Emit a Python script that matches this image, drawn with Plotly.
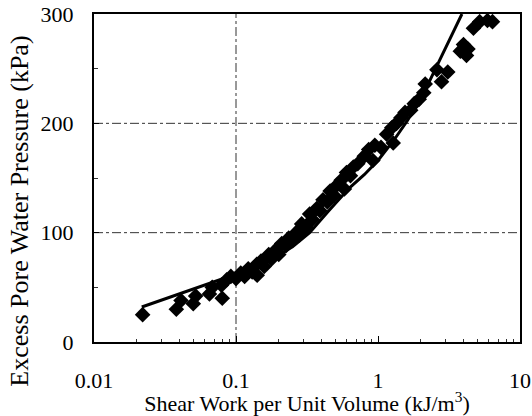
import plotly.graph_objects as go

# Measured data (diamonds)
work_pts = [0.022, 0.038, 0.041, 0.050, 0.052, 0.065, 0.068, 0.080, 0.079, 0.086,
            0.092, 0.100, 0.108, 0.115, 0.122, 0.130, 0.141, 0.140, 0.150, 0.158,
            0.170, 0.178, 0.190, 0.200, 0.210, 0.225, 0.235, 0.250, 0.265, 0.280,
            0.290, 0.310, 0.330, 0.345, 0.370, 0.390, 0.410, 0.440, 0.460, 0.490,
            0.520, 0.550, 0.580, 0.600, 0.640, 0.670, 0.720, 0.800, 0.860, 0.920,
            0.950, 1.050, 1.150, 1.250, 1.280, 1.350, 1.450, 1.550, 1.700, 1.800,
            1.950, 2.100, 2.150, 2.600, 2.800, 3.100, 3.800, 4.000, 4.200, 4.300,
            4.700, 5.200, 5.900, 6.400]
pwp_pts = [25, 30, 38, 35, 42, 44, 50, 40, 52, 57,
           60, 58, 63, 60, 67, 64, 61, 71, 74, 69,
           80, 76, 84, 80, 90, 88, 95, 93, 100, 98,
           108, 105, 117, 112, 122, 120, 130, 128, 138, 134,
           144, 148, 140, 155, 152, 160, 163, 170, 176, 166,
           180, 178, 190, 196, 182, 200, 205, 210, 212, 218,
           222, 228, 236, 249, 238, 247, 266, 272, 262, 268,
           287, 293, 294, 293]

# Model curve (solid line)
work_line = [0.0217, 0.079, 0.15, 0.25, 0.33, 0.45, 0.63, 0.8, 1.0, 1.3, 1.6, 2.0, 2.5, 3.1, 3.9]
pwp_line = [32, 57, 70, 87, 100, 120, 141, 153, 166, 185, 202, 222, 248, 272, 300]

x_ticks = [0.01, 0.1, 1, 10]
x_ticktext = ["0.01", "0.1", "1", "10"]
y_ticks = [0, 100, 200, 300]

fig = go.Figure()
fig.add_trace(go.Scatter(x=work_pts, y=pwp_pts, mode="markers",
                         marker=dict(symbol="diamond", size=12, color="black"),
                         showlegend=False))
fig.add_trace(go.Scatter(x=work_line, y=pwp_line, mode="lines",
                         line=dict(color="black", width=3), showlegend=False))

grid_style = dict(color="#333", width=1, dash="dashdot")
fig.add_shape(type="line", xref="x", yref="paper", x0=0.1, x1=0.1, y0=0, y1=1,
              line=grid_style, layer="below")
for gy in [100, 200]:
    fig.add_shape(type="line", xref="paper", yref="y", x0=0, x1=1, y0=gy, y1=gy,
                  line=grid_style, layer="below")

font_family = "Liberation Serif, Times New Roman, serif"

# Y axis title as a rotated annotation (placed lower, as in the reference)
fig.add_annotation(text="Excess Pore Water Pressure (kPa)", textangle=-90,
                   xref="paper", yref="paper", x=-0.174, y=0.40,
                   xanchor="center", yanchor="middle", showarrow=False,
                   font=dict(family=font_family, size=26, color="black"))

fig.update_layout(
    width=532, height=416,
    margin=dict(l=94, r=12, t=14, b=74),
    paper_bgcolor="white", plot_bgcolor="white",
    font=dict(family=font_family, size=22, color="black"),
    xaxis=dict(type="log", range=[-2, 1], tickvals=x_ticks, ticktext=x_ticktext,
               automargin=False,
               showgrid=False, zeroline=False, showline=True, linecolor="black",
               linewidth=2, mirror=True, ticks="inside", ticklen=6, tickcolor="black",
               ticklabelstandoff=18,
               minor=dict(dtick="D1", ticks="inside", ticklen=3, tickcolor="#333",
                          showgrid=False),
               title=dict(text="Shear Work per Unit Volume (kJ/m<sup>3</sup>)",
                          standoff=0, font=dict(family=font_family, size=22))),
    yaxis=dict(range=[0, 300], tickvals=y_ticks, showgrid=False, zeroline=False,
               automargin=False,
               showline=True, linecolor="black", linewidth=2, mirror=True,
               ticks="inside", ticklen=5, tickcolor="black", ticklabelstandoff=14,
               minor=dict(dtick=50, ticks="inside", ticklen=4, tickcolor="#333",
                          showgrid=False)),
)

fig.write_html("out.html")
